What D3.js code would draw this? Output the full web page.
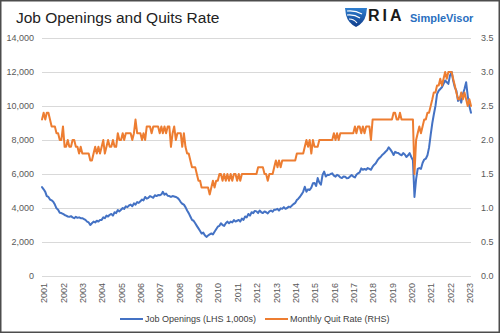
<!DOCTYPE html>
<html>
<head>
<meta charset="utf-8">
<script src="https://cdn.jsdelivr.net/npm/d3@7"></script>
<style>
  html, body { margin: 0; padding: 0; background: #fff; }
  svg { display: block; font-family: "Liberation Sans", Arial, sans-serif; }
</style>
</head>
<body>
<svg id="chart" width="500" height="333"></svg>
<script>
// Monthly series, first value is December 2000
const firstMonth = new Date(2000, 11, 1);

// JOLTS job openings, thousands (left axis)
const jobOpenings = [
  5230,
  5100, 4950, 4700, 4650, 4500, 4450, 4370, 4200, 3980, 3900, 3720, 3700,   // 2001
  3650, 3590, 3550, 3500, 3480, 3520, 3450, 3400, 3480, 3420, 3450, 3400,   // 2002
  3400, 3350, 3300, 3200, 3150, 3000, 3100, 3200, 3150, 3250, 3200, 3300,   // 2003
  3300, 3450, 3400, 3550, 3500, 3600, 3650, 3550, 3750, 3700, 3880, 3800,   // 2004
  3900, 4000, 3950, 4100, 4050, 4150, 4200, 4100, 4270, 4200, 4350, 4300,   // 2005
  4400, 4500, 4450, 4650, 4550, 4600, 4700, 4650, 4600, 4750, 4700, 4760,   // 2006
  4750, 4800, 4950, 4780, 4850, 4720, 4700, 4650, 4700, 4680, 4650, 4600,   // 2007
  4500, 4350, 4250, 4200, 4050, 3850, 3700, 3500, 3300, 3250, 3100, 2950,   // 2008
  2800, 2650, 2500, 2550, 2400, 2300, 2380, 2450, 2500, 2450, 2600, 2750,   // 2009
  2900, 2950, 3100, 3000, 2950, 3100, 3200, 3100, 3200, 3150, 3290, 3200,   // 2010
  3250, 3300, 3200, 3380, 3300, 3500, 3450, 3650, 3550, 3750, 3700, 3830,   // 2011
  3800, 3700, 3850, 3750, 3700, 3800, 3750, 3680, 3800, 3850, 3780, 3900,   // 2012
  3900, 3950, 3850, 3980, 3950, 4050, 3950, 4000, 4080, 4050, 4150, 4230,   // 2013
  4300, 4470, 4550, 4660, 4800, 4960, 5250, 4960, 5100, 5060, 5200, 5450,   // 2014
  5470, 5300, 5760, 5500, 5370, 5940, 6140, 5850, 5950, 5940, 6000, 6040,   // 2015
  5900, 5840, 5950, 5900, 5800, 5760, 5850, 5840, 5750, 5760, 5850, 5940,   // 2016
  5850, 5800, 5950, 6040, 6100, 6330, 6250, 6300, 6250, 6350, 6300, 6250,   // 2017
  6430, 6550, 6630, 6800, 6920, 7000, 7120, 7200, 7310, 7400, 7570, 7450,   // 2018
  7300, 7120, 7300, 7250, 7230, 7150, 7100, 7230, 7150, 7000, 7100, 7230,   // 2019
  7000, 6800, 4650, 5700, 6300, 6350, 6300, 6650, 6850, 6900, 7100, 7550,   // 2020
  8300, 9000, 9500, 10000, 10700, 10900, 11000, 11100, 11300, 11500, 11400, 11300, // 2021
  11800, 12000, 11500, 11100, 10900, 10300, 10500, 10200, 10700, 11000, 11400, 10600, // 2022
  10000, 9600                                                               // 2023
];

// Monthly quit rate, percent (right axis)
const quitRate = [
  2.3,
  2.4, 2.3, 2.4, 2.4, 2.3, 2.2, 2.2, 2.2, 2.1, 2.1, 2.0, 2.0,   // 2001
  2.2, 1.9, 1.9, 2.0, 1.9, 1.9, 2.0, 2.0, 1.9, 1.9, 1.8, 1.9,   // 2002
  1.8, 1.8, 1.8, 1.8, 1.8, 1.7, 1.7, 1.8, 1.9, 1.8, 1.9, 1.8,   // 2003
  1.9, 2.0, 1.8, 1.9, 2.0, 1.9, 1.9, 2.0, 1.9, 1.9, 2.1, 2.0,   // 2004
  2.0, 2.1, 2.0, 2.1, 2.1, 2.1, 2.1, 2.0, 2.1, 2.3, 2.1, 2.1,   // 2005
  2.1, 2.0, 2.1, 2.0, 2.2, 2.2, 2.2, 2.1, 2.2, 2.2, 2.2, 2.2,   // 2006
  2.1, 2.2, 2.1, 2.2, 2.1, 2.2, 2.2, 1.9, 2.1, 2.2, 2.0, 2.1,   // 2007
  2.1, 2.1, 1.9, 2.1, 1.9, 1.8, 1.8, 1.7, 1.6, 1.6, 1.6, 1.5,   // 2008
  1.4, 1.4, 1.3, 1.3, 1.3, 1.3, 1.3, 1.2, 1.3, 1.4, 1.3, 1.4,   // 2009
  1.4, 1.5, 1.5, 1.4, 1.5, 1.4, 1.5, 1.4, 1.5, 1.4, 1.5, 1.5,   // 2010
  1.4, 1.5, 1.4, 1.5, 1.5, 1.5, 1.5, 1.5, 1.5, 1.5, 1.5, 1.5,   // 2011
  1.5, 1.6, 1.6, 1.6, 1.6, 1.5, 1.5, 1.4, 1.5, 1.5, 1.5, 1.6,   // 2012
  1.7, 1.6, 1.7, 1.6, 1.7, 1.7, 1.7, 1.7, 1.7, 1.7, 1.7, 1.7,   // 2013
  1.7, 1.8, 1.8, 1.8, 1.8, 1.8, 1.9, 2.0, 1.9, 2.0, 1.8, 2.0,   // 2014
  1.9, 1.9, 1.9, 2.0, 2.0, 2.0, 2.0, 2.0, 2.0, 2.0, 2.0, 2.0,   // 2015
  2.1, 2.0, 2.1, 2.0, 2.1, 2.1, 2.1, 2.1, 2.1, 2.1, 2.1, 2.1,   // 2016
  2.1, 2.2, 2.1, 2.2, 2.2, 2.1, 2.2, 2.1, 2.2, 2.2, 2.2, 2.0,   // 2017
  2.3, 2.3, 2.3, 2.3, 2.3, 2.3, 2.3, 2.3, 2.3, 2.3, 2.3, 2.3,   // 2018
  2.3, 2.4, 2.4, 2.3, 2.3, 2.4, 2.3, 2.3, 2.3, 2.3, 2.3, 2.3,   // 2019
  2.3, 2.3, 1.5, 2.0, 2.1, 2.2, 2.1, 2.2, 2.3, 2.3, 2.4, 2.4,   // 2020
  2.5, 2.6, 2.7, 2.7, 2.8, 2.8, 2.9, 2.8, 2.9, 3.0, 2.9, 3.0,   // 2021
  3.0, 3.0, 2.9, 2.8, 2.7, 2.6, 2.6, 2.7, 2.6, 2.7, 2.6, 2.5,   // 2022
  2.6, 2.5                                                      // 2023
];

const yearLabels = d3.range(2001, 2024).map(String);
const leftTicks = [0, 2000, 4000, 6000, 8000, 10000, 12000, 14000];
const rightTicks = [0, 0.5, 1.0, 1.5, 2.0, 2.5, 3.0, 3.5];

const seriesNames = ["Job Openings (LHS 1,000s)", "Monthly Quit Rate (RHS)"];
const seriesColors = ["#4472c4", "#ed7d31"];

// ---- layout ----
const W = 500, H = 333;
const plot = { left: 42, right: 471, top: 38, bottom: 276 };

const svg = d3.select("#chart");

svg.append("rect")
  .attr("x", 0.75).attr("y", 0.75)
  .attr("width", W - 1.5).attr("height", H - 1.5)
  .attr("fill", "#fff")
  .attr("stroke", "#4d4d4d").attr("stroke-width", 1.5);

const dates = jobOpenings.map((_, i) => d3.timeMonth.offset(firstMonth, i));

const x = d3.scaleTime()
  .domain([dates[0], dates[dates.length - 1]])
  .range([plot.left, plot.right]);
const yLeft = d3.scaleLinear().domain([0, 14000]).range([plot.bottom, plot.top]);
const yRight = d3.scaleLinear().domain([0, 3.5]).range([plot.bottom, plot.top]);

// ---- title and brand mark ----
svg.append("text")
  .attr("x", 16).attr("y", 23)
  .attr("font-size", 15.5)
  .attr("fill", "#222")
  .text("Job Openings and Quits Rate");

const brand = svg.append("g");
const grad = svg.append("defs").append("linearGradient")
  .attr("id", "shieldGrad").attr("x1", 0).attr("y1", 0).attr("x2", 0).attr("y2", 1);
grad.append("stop").attr("offset", "0%").attr("stop-color", "#2f7fd0");
grad.append("stop").attr("offset", "100%").attr("stop-color", "#0f3c8a");
brand.append("path")
  .attr("d", "M345,8 L367,8 L366,15 Q364,23 356,27 Q348,23 346,15 Z")
  .attr("fill", "url(#shieldGrad)");
brand.append("path")
  .attr("d", "M347,11 Q355,10 362,14 M347,15 Q354,14 360,18 M349,19 Q354,19 357,23")
  .attr("fill", "none").attr("stroke", "#fff").attr("stroke-width", 1.2);
brand.append("text")
  .attr("x", 368).attr("y", 21)
  .attr("font-size", 16).attr("font-weight", "bold")
  .attr("letter-spacing", 3)
  .attr("fill", "#1a1a1a")
  .text("RIA");
brand.append("text")
  .attr("x", 410).attr("y", 22)
  .attr("font-size", 11).attr("font-weight", "bold")
  .attr("fill", "#2a6fc0")
  .text("SimpleVisor");

// ---- gridlines and left axis ----
const leftAxis = svg.append("g")
  .attr("transform", `translate(${plot.left},0)`)
  .call(d3.axisLeft(yLeft)
    .tickValues(leftTicks)
    .tickSize(-(plot.right - plot.left))
    .tickPadding(8)
    .tickFormat(d3.format(",")));
leftAxis.select(".domain").remove();
leftAxis.selectAll(".tick line").attr("stroke", "#d9d9d9").attr("stroke-width", 1);
leftAxis.selectAll(".tick text")
  .attr("fill", "#595959").attr("font-size", 9)
  .attr("font-family", "Liberation Sans, Arial, sans-serif");

// ---- right axis ----
const rightAxis = svg.append("g")
  .attr("transform", `translate(${plot.right},0)`)
  .call(d3.axisRight(yRight)
    .tickValues(rightTicks)
    .tickSize(0)
    .tickPadding(10)
    .tickFormat(d3.format(".1f")));
rightAxis.select(".domain").remove();
rightAxis.selectAll(".tick text")
  .attr("fill", "#595959").attr("font-size", 9)
  .attr("font-family", "Liberation Sans, Arial, sans-serif");

// ---- bottom axis: one label per January ----
const yearTicks = yearLabels.map(y => new Date(+y, 0, 1));
const bottomAxis = svg.append("g")
  .attr("transform", `translate(0,${plot.bottom})`)
  .call(d3.axisBottom(x)
    .tickValues(yearTicks)
    .tickSize(0)
    .tickFormat((d, i) => yearLabels[i]));
bottomAxis.select(".domain").remove();
bottomAxis.selectAll(".tick text")
  .attr("transform", "rotate(-90)")
  .attr("x", -7).attr("y", 0).attr("dy", "0.35em")
  .attr("text-anchor", "end")
  .attr("fill", "#595959").attr("font-size", 9)
  .attr("font-family", "Liberation Sans, Arial, sans-serif");

// ---- series lines ----
const lineLeft = d3.line()
  .x((d, i) => x(dates[i]))
  .y(d => yLeft(d));
const lineRight = d3.line()
  .x((d, i) => x(dates[i]))
  .y(d => yRight(d));

svg.append("path")
  .datum(jobOpenings)
  .attr("d", lineLeft)
  .attr("fill", "none")
  .attr("stroke", seriesColors[0])
  .attr("stroke-width", 2)
  .attr("stroke-linejoin", "round")
  .attr("stroke-linecap", "round");

svg.append("path")
  .datum(quitRate)
  .attr("d", lineRight)
  .attr("fill", "none")
  .attr("stroke", seriesColors[1])
  .attr("stroke-width", 2)
  .attr("stroke-linejoin", "round")
  .attr("stroke-linecap", "round");

// ---- legend ----
const legendY = 319;
const legendX = [120, 265];
const legend = svg.append("g");
seriesNames.forEach((name, i) => {
  legend.append("line")
    .attr("x1", legendX[i]).attr("x2", legendX[i] + 23)
    .attr("y1", legendY).attr("y2", legendY)
    .attr("stroke", seriesColors[i]).attr("stroke-width", 2);
  legend.append("text")
    .attr("x", legendX[i] + 25).attr("y", legendY)
    .attr("dy", "0.35em")
    .attr("font-size", 9)
    .attr("fill", "#404040")
    .text(name);
});
</script>
</body>
</html>
